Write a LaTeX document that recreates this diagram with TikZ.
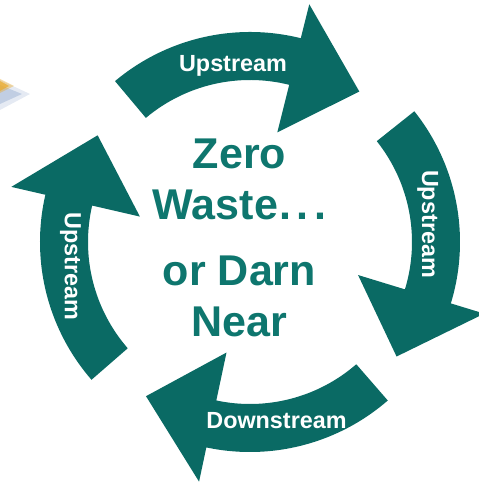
\documentclass[tikz,border=0pt]{standalone}
\usepackage{fontspec}
\setmainfont{Liberation Sans}
\definecolor{cycleteal}{RGB}{10,106,100}
\definecolor{goalteal}{RGB}{14,118,110}
\definecolor{blobblue}{RGB}{150,172,208}
\definecolor{bloborange}{RGB}{236,170,40}
\begin{document}
\begin{tikzpicture}[x=0.02cm,y=0.02cm,
    label/.style={inner sep=0pt,text=white,font=\fontsize{13.3}{16}\selectfont\bfseries},
    goal/.style={inner sep=0pt,align=center,text=goalteal,font=\fontsize{24.5}{29}\selectfont\bfseries}]
    \useasboundingbox (-250,-244) rectangle (228,242);
    % faint piece at the left edge
    \fill[blobblue,opacity=0.25] (-250,162)--(-220,148)--(-250,132)--cycle;
    \fill[blobblue,opacity=0.45] (-250,157)--(-228,148)--(-250,138)--cycle;
    \fill[bloborange,opacity=0.4] (-250,163)--(-236,156)--(-250,149)--cycle;
    \fill[bloborange,opacity=0.7] (-250,161)--(-241,156)--(-250,151)--cycle;
    % the four arrows: tail / head base / tip angles
    \foreach \t/\b/\p in {130/76/54, 38.5/-17/-38, -49/-102/-124, -139/-193/-215}
      \fill[cycleteal] (\t:210) arc[start angle=\t,end angle=\b,radius=210]
        -- (\b:245) -- (\p:186) -- (\b:113) -- (\b:162)
        arc[start angle=\b,end angle=\t,radius=162] -- cycle;
    \node[label,anchor=base] (up1) at (-17,170) {Upstream};
    \node[label,anchor=base,rotate=-90] (up2) at (172,18) {Upstream};
    \node[label,anchor=base] (down) at (26.5,-186) {Downstream};
    \node[label,anchor=base,rotate=-90] (up3) at (-185,-24.5) {Upstream};
    \node[goal] (zero) at (-10.5,4) {Zero\\Waste\kern1pt.\kern3pt.\kern3pt.\\[9pt]or Darn\\Near};
\end{tikzpicture}
\end{document}
